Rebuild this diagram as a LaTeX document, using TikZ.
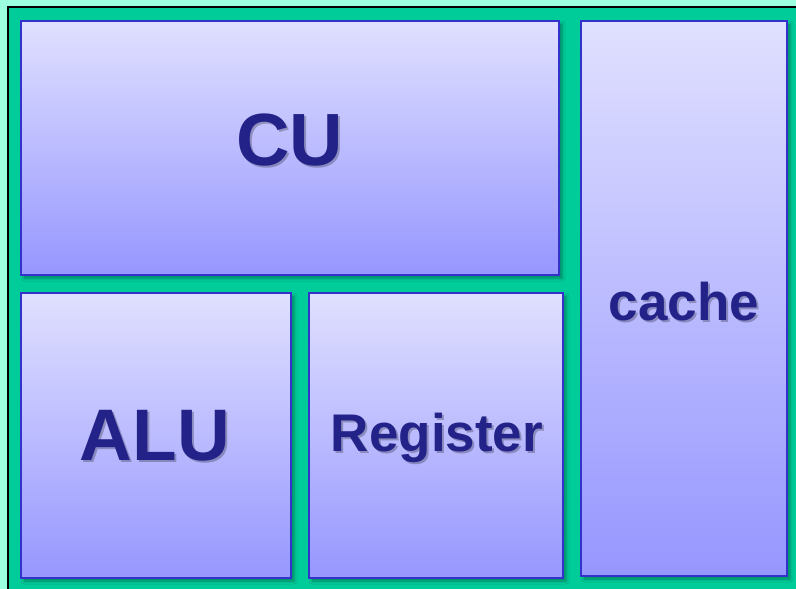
\documentclass[tikz,border=0pt]{standalone}
\usepackage{fontspec}
\setmainfont{Liberation Sans}
\usetikzlibrary{shadows.blur}
\definecolor{bgaqua}{HTML}{9CFFE0}
\definecolor{framegreen}{HTML}{00CC99}
\definecolor{boxedge}{HTML}{3333CC}
\definecolor{boxtop}{HTML}{E0E0FF}
\definecolor{boxbottom}{HTML}{9696FF}
\definecolor{labelink}{HTML}{222288}
\tikzset{
  unitbox/.style={draw=boxedge, line width=2.2pt, top color=boxtop, bottom color=boxbottom,
    blur shadow={shadow xshift=3pt, shadow yshift=-3pt, shadow blur radius=3pt, shadow opacity=35}},
  unitlabel/.style={text=labelink, font=\bfseries},
  labelshade/.style={text=black, opacity=0.25, font=\bfseries},
}
% label with a soft drop shadow behind it
\newcommand{\unitname}[4]{%
  \node[labelshade, font=\fontsize{#3}{#3}\selectfont\bfseries] at ([xshift=2pt,yshift=-2pt]#1) {#4};
  \node[unitlabel, font=\fontsize{#3}{#3}\selectfont\bfseries] (#2) at (#1) {#4};}
\begin{document}
\begin{tikzpicture}[x=1pt, y=-1pt]
  \useasboundingbox (0,0) rectangle (796,589);
  \fill[bgaqua] (0,0) rectangle (796,589);
  \begin{scope}
    \clip (0,0) rectangle (796,589);
    \draw[black, line width=2.2pt, fill=framegreen] (8,7) rectangle (810,600);
  \end{scope}
  % functional units
  \draw[unitbox] (21,21) rectangle (559,275);
  \draw[unitbox] (581,21) rectangle (787,576);
  \draw[unitbox] (21,293) rectangle (291,578);
  \draw[unitbox] (309,293) rectangle (563,578);
  % labels
  \coordinate (cuc) at (290,140);
  \coordinate (aluc) at (155,436);
  \coordinate (regc) at (437,438);
  \coordinate (cachec) at (684,302);
  \unitname{cuc}{cu}{74}{CU}
  \unitname{aluc}{alu}{73}{ALU}
  \unitname{regc}{reg}{53}{Register}
  \unitname{cachec}{cache}{53}{cache}
\end{tikzpicture}
\end{document}
